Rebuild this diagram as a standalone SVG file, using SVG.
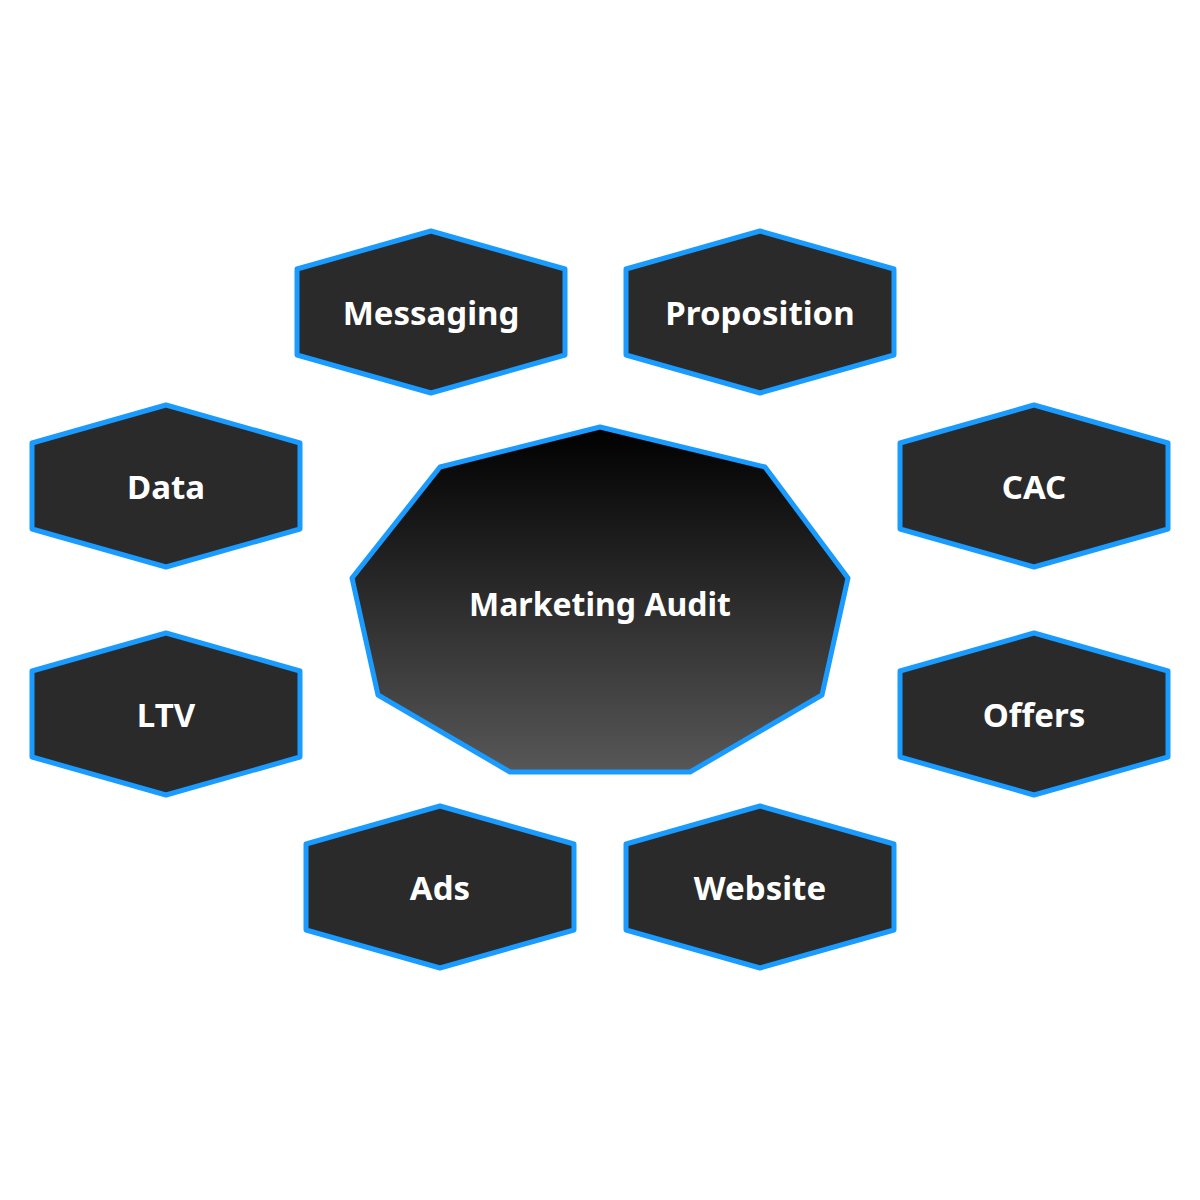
<svg xmlns="http://www.w3.org/2000/svg" width="1200" height="1200" viewBox="0 0 1200 1200">
<defs>
<linearGradient id="g" x1="0" y1="0" x2="0" y2="1"><stop offset="0" stop-color="#000"/><stop offset="1" stop-color="#575757"/></linearGradient>
<polygon id="hex" points="0,-81 134,-43 134,43 0,81 -134,43 -134,-43"/>
</defs>
<style>
.h{fill:#2a2a2a;stroke:#1a9bff;stroke-width:5;stroke-linejoin:round}
.t{fill:#fff;font-family:"Noto Sans","Open Sans",sans-serif;font-weight:700;font-size:33px;text-anchor:middle;dominant-baseline:central}
</style>
<rect width="1200" height="1200" fill="#fff"/>
<g id="center">
<polygon points="600,427 765,467 848,578 822,695 690,772 510,772 378,695 352,578 440,467" fill="url(#g)" stroke="#1a9bff" stroke-width="5" stroke-linejoin="round"/>
<text class="t" x="600" y="603" style="font-size:32px">Marketing Audit</text>
</g>
<g id="connectors"/>
<g id="messaging"><use href="#hex" class="h" x="431" y="312"/><text class="t" x="431" y="312">Messaging</text></g>
<g id="proposition"><use href="#hex" class="h" x="760" y="312"/><text class="t" x="760" y="312">Proposition</text></g>
<g id="data"><use href="#hex" class="h" x="166" y="486"/><text class="t" x="166" y="486">Data</text></g>
<g id="cac"><use href="#hex" class="h" x="1034" y="486"/><text class="t" x="1034" y="486">CAC</text></g>
<g id="ltv"><use href="#hex" class="h" x="166" y="714"/><text class="t" x="166" y="714">LTV</text></g>
<g id="offers"><use href="#hex" class="h" x="1034" y="714"/><text class="t" x="1034" y="714">Offers</text></g>
<g id="ads"><use href="#hex" class="h" x="440" y="887"/><text class="t" x="440" y="887">Ads</text></g>
<g id="website"><use href="#hex" class="h" x="760" y="887"/><text class="t" x="760" y="887">Website</text></g>
</svg>
